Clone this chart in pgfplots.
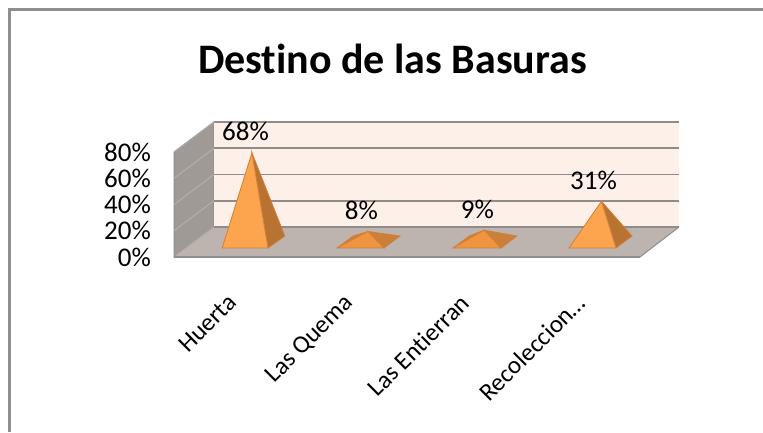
\documentclass[border=0pt]{standalone}
\usepackage{pgfplots}
\usepackage{fontspec}
\setmainfont{Carlito}[Ligatures=NoCommon]
\pgfplotsset{compat=1.18}
\definecolor{wallback}{HTML}{FDF0E9}
\definecolor{wallleft}{HTML}{A09A96}
\definecolor{floorc}{HTML}{BDB3AF}
\definecolor{gridc}{HTML}{8F8B88}
\definecolor{edgec}{HTML}{8E8E8E}
\definecolor{frontA}{HTML}{FCA44E}
\definecolor{frontB}{HTML}{F09440}
\definecolor{sideA}{HTML}{B87232}
\definecolor{sideB}{HTML}{CC7F38}
\definecolor{edgeo}{HTML}{D08038}
\begin{document}
\begin{tikzpicture}[x=1pt,y=1pt]
\path[use as bounding box] (0,0) rectangle (763,432);
\fill[white] (0,0) rectangle (763,432);
\draw[edgec,line width=3pt] (9.5,0) -- (9.5,422.5) -- (763,422.5);
\node[font=\bfseries\fontsize{42}{46}\selectfont,anchor=center] at (392.5,373) {Destino de las Basuras};
% front plane of the chart: walls, floor, tick labels
\begin{axis}[
  at={(174pt,175pt)},anchor=south west,
  scale only axis,width=466pt,height=105pt,
  xmin=-0.685,xmax=3.332,ymin=0,ymax=80,
  clip=false,
  axis line style={draw=none},
  tick style={draw=none},
  xtick={0,1,2,3},
  xticklabels={Huerta,Las Quema,Las Entierran,Recoleccion…},
  ytick={0,20,40,60,80},
  yticklabels={0\%,20\%,40\%,60\%,80\%},
  tick label style={font=\fontsize{27}{30}\selectfont},
  /pgf/number format/assume math mode=true,
  yticklabel style={xshift=-23pt,anchor=east,inner sep=0pt},
  xticklabel style={rotate=45,anchor=north east,inner sep=0pt,xshift=-44pt,yshift=-6pt,font=\fontsize{25}{28}\selectfont},
]
% left wall
\addplot[fill=wallleft,draw=edgec,line width=1pt] coordinates {(-0.685,0)(-0.685,80)(-0.3405,102.86)(-0.3405,22.86)} -- cycle;
% back wall
\addplot[fill=wallback,draw=none] coordinates {(-0.3405,22.86)(-0.3405,102.86)(3.668,102.86)(3.668,22.86)} -- cycle;
% floor
\addplot[fill=floorc,draw=none] coordinates {(-0.685,0)(3.332,0)(3.668,22.86)(-0.3405,22.86)} -- cycle;
% gridlines: back wall
\addplot[gridc,line width=1.8pt] coordinates {(-0.3405,22.86)(3.668,22.86)};
\addplot[gridc,line width=1.8pt] coordinates {(-0.3405,42.86)(3.668,42.86)};
\addplot[gridc,line width=1.8pt] coordinates {(-0.3405,62.86)(3.668,62.86)};
\addplot[gridc,line width=1.8pt] coordinates {(-0.3405,82.86)(3.668,82.86)};
\addplot[gridc,line width=1.8pt] coordinates {(-0.3405,102.86)(3.668,102.86)};
% gridlines: left wall
\addplot[gridc!70!white,line width=1pt] coordinates {(-0.685,0)(-0.3405,22.86)};
\addplot[gridc!70!white,line width=1pt] coordinates {(-0.685,20)(-0.3405,42.86)};
\addplot[gridc!70!white,line width=1pt] coordinates {(-0.685,40)(-0.3405,62.86)};
\addplot[gridc!70!white,line width=1pt] coordinates {(-0.685,60)(-0.3405,82.86)};
\addplot[gridc!70!white,line width=1pt] coordinates {(-0.685,80)(-0.3405,102.86)};
% floor edges
\addplot[edgec,line width=2.5pt] coordinates {(-0.685,0)(3.332,0)};
\addplot[edgec,line width=1pt] coordinates {(3.332,0)(3.668,22.86)};
\end{axis}
% centre plane: the pyramids, with true percentages on the y axis
\begin{axis}[
  at={(174pt,190pt)},anchor=south west,
  scale only axis,width=466pt,height=105pt,
  xmin=-0.685,xmax=3.332,ymin=0,ymax=80,
  clip=false,hide axis,
]
% Huerta, 68
\addplot[fill=sideA,draw=edgeo,line width=0.8pt] coordinates {(0.125,-4.57)(0.27,4.57)(-0.013,68)} -- cycle;
\addplot[fill=frontA,draw=edgeo,line width=0.8pt] coordinates {(-0.27,-4.57)(0.125,-4.57)(-0.013,68)} -- cycle;
% Las Quema, 8
\addplot[fill=sideB,draw=edgeo,line width=0.8pt] coordinates {(0.72,-4.57)(0.86,4.57)(0.987,8)} -- cycle;
\addplot[fill=sideB,draw=edgeo,line width=0.8pt] coordinates {(1.125,-4.57)(1.263,4.57)(0.987,8)} -- cycle;
\addplot[fill=frontB,draw=edgeo,line width=0.8pt] coordinates {(0.72,-4.57)(1.125,-4.57)(0.987,8)} -- cycle;
% Las Entierran, 9
\addplot[fill=sideB,draw=edgeo,line width=0.8pt] coordinates {(1.72,-4.57)(1.86,4.57)(1.987,9)} -- cycle;
\addplot[fill=sideB,draw=edgeo,line width=0.8pt] coordinates {(2.134,-4.57)(2.27,4.57)(1.987,9)} -- cycle;
\addplot[fill=frontB,draw=edgeo,line width=0.8pt] coordinates {(1.72,-4.57)(2.134,-4.57)(1.987,9)} -- cycle;
% Recoleccion, 31
\addplot[fill=sideA,draw=edgeo,line width=0.8pt] coordinates {(3.125,-4.57)(3.263,4.57)(3,31)} -- cycle;
\addplot[fill=frontA,draw=edgeo,line width=0.8pt] coordinates {(2.72,-4.57)(3.125,-4.57)(3,31)} -- cycle;
% data labels
\addplot[draw=none,point meta=explicit symbolic,
  nodes near coords,
  nodes near coords style={anchor=center,xshift=-8pt,yshift=21pt,inner sep=0pt,text=black,font=\fontsize{27}{30}\selectfont}]
  coordinates {(0,68)[68\%](1,8)[8\%](2,9)[9\%](3,31)[31\%]};
\end{axis}
\end{tikzpicture}
\end{document}
